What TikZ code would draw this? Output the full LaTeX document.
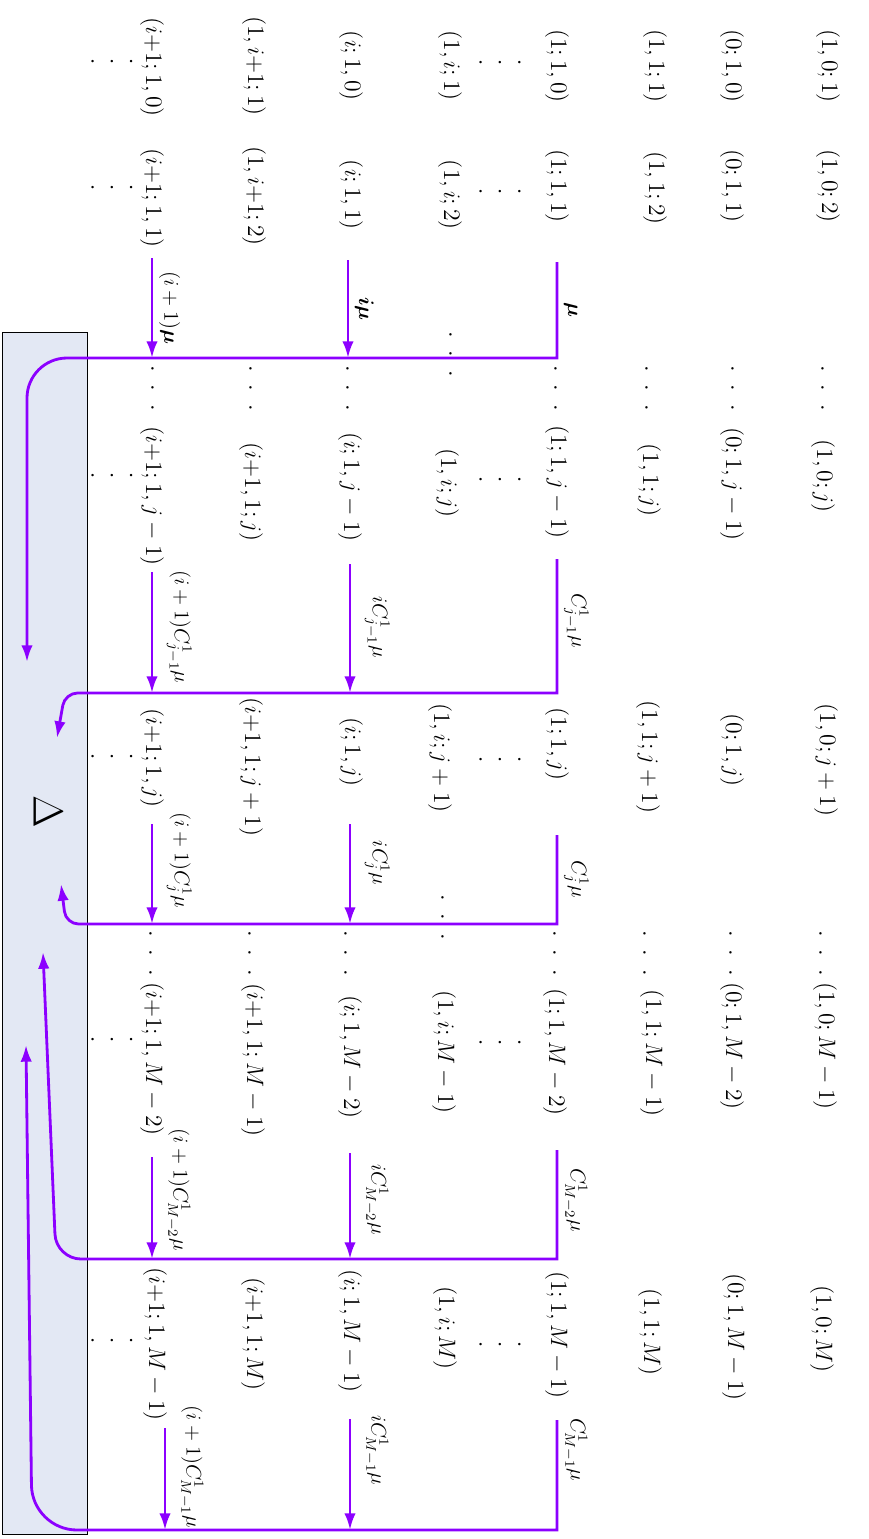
\RequirePackage{fix-cm}
\documentclass[tikz,border=0pt]{standalone}
\usepackage{amsmath,amssymb}
\usepackage{bm}
\usepackage{tikz}
\usetikzlibrary{arrows.meta}

\definecolor{busviolet}{RGB}{140,0,255}
\definecolor{panelblue}{RGB}{227,232,244}
\newcommand{\tridots}{\ensuremath{\cdotp\hspace{5pt}\cdotp\hspace{5pt}\cdotp}}

\begin{document}
\begin{tikzpicture}[x=0.2mm, y=-0.2mm,
        st/.style  ={rotate=-90, font=\fontsize{13.5}{16}\selectfont, inner sep=1pt},
        dt/.style  ={font=\fontsize{13.5}{16}\selectfont, inner sep=1pt},
        rate/.style={rotate=-90, font=\fontsize{12}{14}\selectfont, text=black,
                     inner sep=1pt, anchor=south, outer sep=3pt},
        lblfar/.style={outer sep=7.5pt},
        bus/.style ={busviolet, line width=1.6pt},
        arr/.style ={-{Latex[length=9.5pt,width=6.5pt]}, busviolet, line width=1.6pt},]

    \useasboundingbox (0,0) rectangle (869,1539);
    \draw[fill=panelblue, line width=0.5pt] (2,332) rectangle (87,1534);
    \node[rotate=-90, font=\fontsize{24}{28}\selectfont] (delta) at (48,812) {$\Delta$};

    \node[st] (a1) at (828,66) {$(1,0;1)$};
    \node[st] (a2) at (732,66) {$(0;1,0)$};
    \node[st] (a3) at (655,66) {$(1,1;1)$};
    \node[st] (a4) at (557,66) {$(1;1,0)$};
    \node[dt] (a5) at (500,63) {\tridots};
    \node[st] (a6) at (450,66) {$(1,i;1)$};
    \node[st] (a7) at (351,66) {$(i;1,0)$};
    \node[st] (a8) at (254,66) {$(1,i{+}1;1)$};
    \node[st] (a9) at (152,67) {$(i{+}1;1,0)$};
    \node[dt] (a10) at (112,62) {\tridots};

    \node[st] (b1) at (828,186) {$(1,0;2)$};
    \node[st] (b2) at (732,186) {$(0;1,1)$};
    \node[st] (b3) at (655,188) {$(1,1;2)$};
    \node[st] (b4) at (557,186) {$(1;1,1)$};
    \node[dt] (b5) at (500,192) {\tridots};
    \node[st] (b6) at (450,195) {$(1,i;2)$};
    \node[st] (b7) at (351,195) {$(i;1,1)$};
    \node[st] (b8) at (254,196) {$(1,i{+}1;2)$};
    \node[st] (b9) at (152,198) {$(i{+}1;1,1)$};
    \node[dt] (b10) at (112,188) {\tridots};

    \node[st] (g1) at (822,388) {\tridots};
    \node[st] (g2) at (732,388) {\tridots};
    \node[st] (g3) at (646,388) {\tridots};
    \node[st] (g4) at (555,388) {\tridots};
    \node[st] (g5) at (450,354) {\tridots};
    \node[st] (g6) at (347,388) {\tridots};
    \node[st] (g7) at (250,388) {\tridots};
    \node[st] (g8) at (152,388) {\tridots};

    \node[st] (c1) at (823,476) {$(1,0;j)$};
    \node[st] (c2) at (732,484) {$(0;1,j-1)$};
    \node[st] (c3) at (649,480) {$(1,1;j)$};
    \node[st] (c4) at (557,482) {$(1;1,j-1)$};
    \node[dt] (c5) at (500,480) {\tridots};
    \node[st] (c6) at (447,483) {$(1,i;j)$};
    \node[st] (c7) at (350,487) {$(i;1,j-1)$};
    \node[st] (c8) at (251,492) {$(i{+}1,1;j)$};
    \node[st] (c9) at (152,496) {$(i{+}1;1,j-1)$};
    \node[dt] (c10) at (112,476) {\tridots};

    \node[st] (d1) at (826,760) {$(1,0;j+1)$};
    \node[st] (d2) at (732,750) {$(0;1,j)$};
    \node[st] (d3) at (648,757) {$(1,1;j+1)$};
    \node[st] (d4) at (557,744) {$(1;1,j)$};
    \node[dt] (d5) at (500,760) {\tridots};
    \node[st] (d6) at (440,758) {$(1,i;j+1)$};
    \node[st] (d7) at (351,752) {$(i;1,j)$};
    \node[st] (d8) at (251,767) {$(i{+}1,1;j+1)$};
    \node[st] (d9) at (152,758) {$(i{+}1;1,j)$};
    \node[dt] (d10) at (112,757) {\tridots};

    \node[st] (k1) at (820,953) {\tridots};
    \node[st] (k2) at (730,953) {\tridots};
    \node[st] (k3) at (644,953) {\tridots};
    \node[st] (k4) at (554,953) {\tridots};
    \node[st] (k5) at (442,917) {\tridots};
    \node[st] (k6) at (345,953) {\tridots};
    \node[st] (k7) at (249,953) {\tridots};
    \node[st] (k8) at (150,953) {\tridots};

    \node[st] (e1) at (825,1046) {$(1,0;M-1)$};
    \node[st] (e2) at (732,1046) {$(0;1,M-2)$};
    \node[st] (e3) at (652,1053) {$(1,1;M-1)$};
    \node[st] (e4) at (555,1052) {$(1;1,M-2)$};
    \node[dt] (e5) at (500,1043) {\tridots};
    \node[st] (e6) at (444,1052) {$(1,i;M-1)$};
    \node[st] (e7) at (350,1057) {$(i;1,M-2)$};
    \node[st] (e8) at (253,1060) {$(i{+}1,1;M-1)$};
    \node[st] (e9) at (152,1059) {$(i{+}1;1,M-2)$};
    \node[dt] (e10) at (112,1040) {\tridots};

    \node[st] (f1) at (822,1329) {$(1,0;M)$};
    \node[st] (f2) at (734,1337) {$(0;1,M-1)$};
    \node[st] (f3) at (650,1332) {$(1,1;M)$};
    \node[st] (f4) at (557,1335) {$(1;1,M-1)$};
    \node[dt] (f5) at (500,1345) {\tridots};
    \node[st] (f6) at (445,1328) {$(1,i;M)$};
    \node[st] (f7) at (350,1331) {$(i;1,M-1)$};
    \node[st] (f8) at (253,1334) {$(i{+}1,1;M)$};
    \node[st] (f9) at (155,1344) {$(i{+}1;1,M-1)$};
    \node[dt] (f10) at (112,1341) {\tridots};

    \coordinate (mu1)   at (557,262);
    \coordinate (imu1)  at (348,260);
    \coordinate (ipmu1) at (152,258);
    \coordinate (bus1)  at (557,358);
    \coordinate (turn1) at (27,358);
    \coordinate (in1)   at (27,662);

    \coordinate (mu2)   at (557,559);
    \coordinate (imu2)  at (350,564);
    \coordinate (ipmu2) at (152,572);
    \coordinate (bus2)  at (557,693);
    \coordinate (turn2) at (65,693);
    \coordinate (in2)   at (57,738);

    \coordinate (mu3)   at (557,835);
    \coordinate (imu3)  at (350,824);
    \coordinate (ipmu3) at (152,824);
    \coordinate (bus3)  at (557,924);
    \coordinate (turn3) at (66,924);
    \coordinate (in3)   at (61,884);

    \coordinate (mu4)   at (557,1150);
    \coordinate (imu4)  at (350,1153);
    \coordinate (ipmu4) at (152,1157);
    \coordinate (bus4)  at (557,1259);
    \coordinate (turn4) at (56,1259);
    \coordinate (in4)   at (43,952);

    \coordinate (mu5)   at (557,1420);
    \coordinate (imu5)  at (350,1419);
    \coordinate (ipmu5) at (165,1428);
    \coordinate (bus5)  at (557,1530);
    \coordinate (turn5) at (32,1530);
    \coordinate (in5)   at (26,1045);

    \draw[arr] (mu1) -- (bus1) node[rate, midway]{$\bm{\mu}$}
        {[rounded corners=8mm] -- (turn1) -- (in1)};
    \draw[arr] (imu1) -- (imu1 |- bus1)
        node[rate, midway]{$\bm{i\mu}$};
    \draw[arr] (ipmu1) -- (ipmu1 |- bus1)
        node[rate, midway]{$(i+1)\bm{\mu}$};

    \draw[arr] (mu2) -- (bus2) node[rate, pos=0.46]{$C^1_{j-1}\mu$}
        {[rounded corners=2.5mm] -- (turn2) -- (in2)};
    \draw[arr] (imu2) -- (imu2 |- bus2)
        node[rate, lblfar, pos=0.49]{$iC^1_{j-1}\mu$};
    \draw[arr] (ipmu2) -- (ipmu2 |- bus2)
        node[rate, lblfar, pos=0.45]{$(i+1)C^1_{j-1}\mu$};

    \draw[arr] (mu3) -- (bus3) node[rate, midway]{$C^1_{j}\mu$}
        {[rounded corners=2.5mm] -- (turn3) -- (in3)};
    \draw[arr] (imu3) -- (imu3 |- bus3)
        node[rate, lblfar, pos=0.39]{$iC^1_{j}\mu$};
    \draw[arr] (ipmu3) -- (ipmu3 |- bus3)
        node[rate, lblfar, pos=0.36]{$(i+1)C^1_{j}\mu$};

    \draw[arr] (mu4) -- (bus4) node[rate, pos=0.46]{$C^1_{M-2}\mu$}
        {[rounded corners=5mm] -- (turn4) -- (in4)};
    \draw[arr] (imu4) -- (imu4 |- bus4)
        node[rate, lblfar, pos=0.44]{$iC^1_{M-2}\mu$};
    \draw[arr] (ipmu4) -- (ipmu4 |- bus4)
        node[rate, lblfar, pos=0.32]{$(i+1)C^1_{M-2}\mu$};

    \draw[arr] (mu5) -- (bus5) node[rate, pos=0.27]{$C^1_{M-1}\mu$}
        {[rounded corners=9mm] -- (turn5) -- (in5)};
    \draw[arr] (imu5) -- (imu5 |- bus5)
        node[rate, lblfar, pos=0.28]{$iC^1_{M-1}\mu$};
    \draw[arr] (ipmu5) -- (ipmu5 |- bus5)
        node[rate, lblfar, pos=0.38]{$(i+1)C^1_{M-1}\mu$};
\end{tikzpicture}
\end{document}
